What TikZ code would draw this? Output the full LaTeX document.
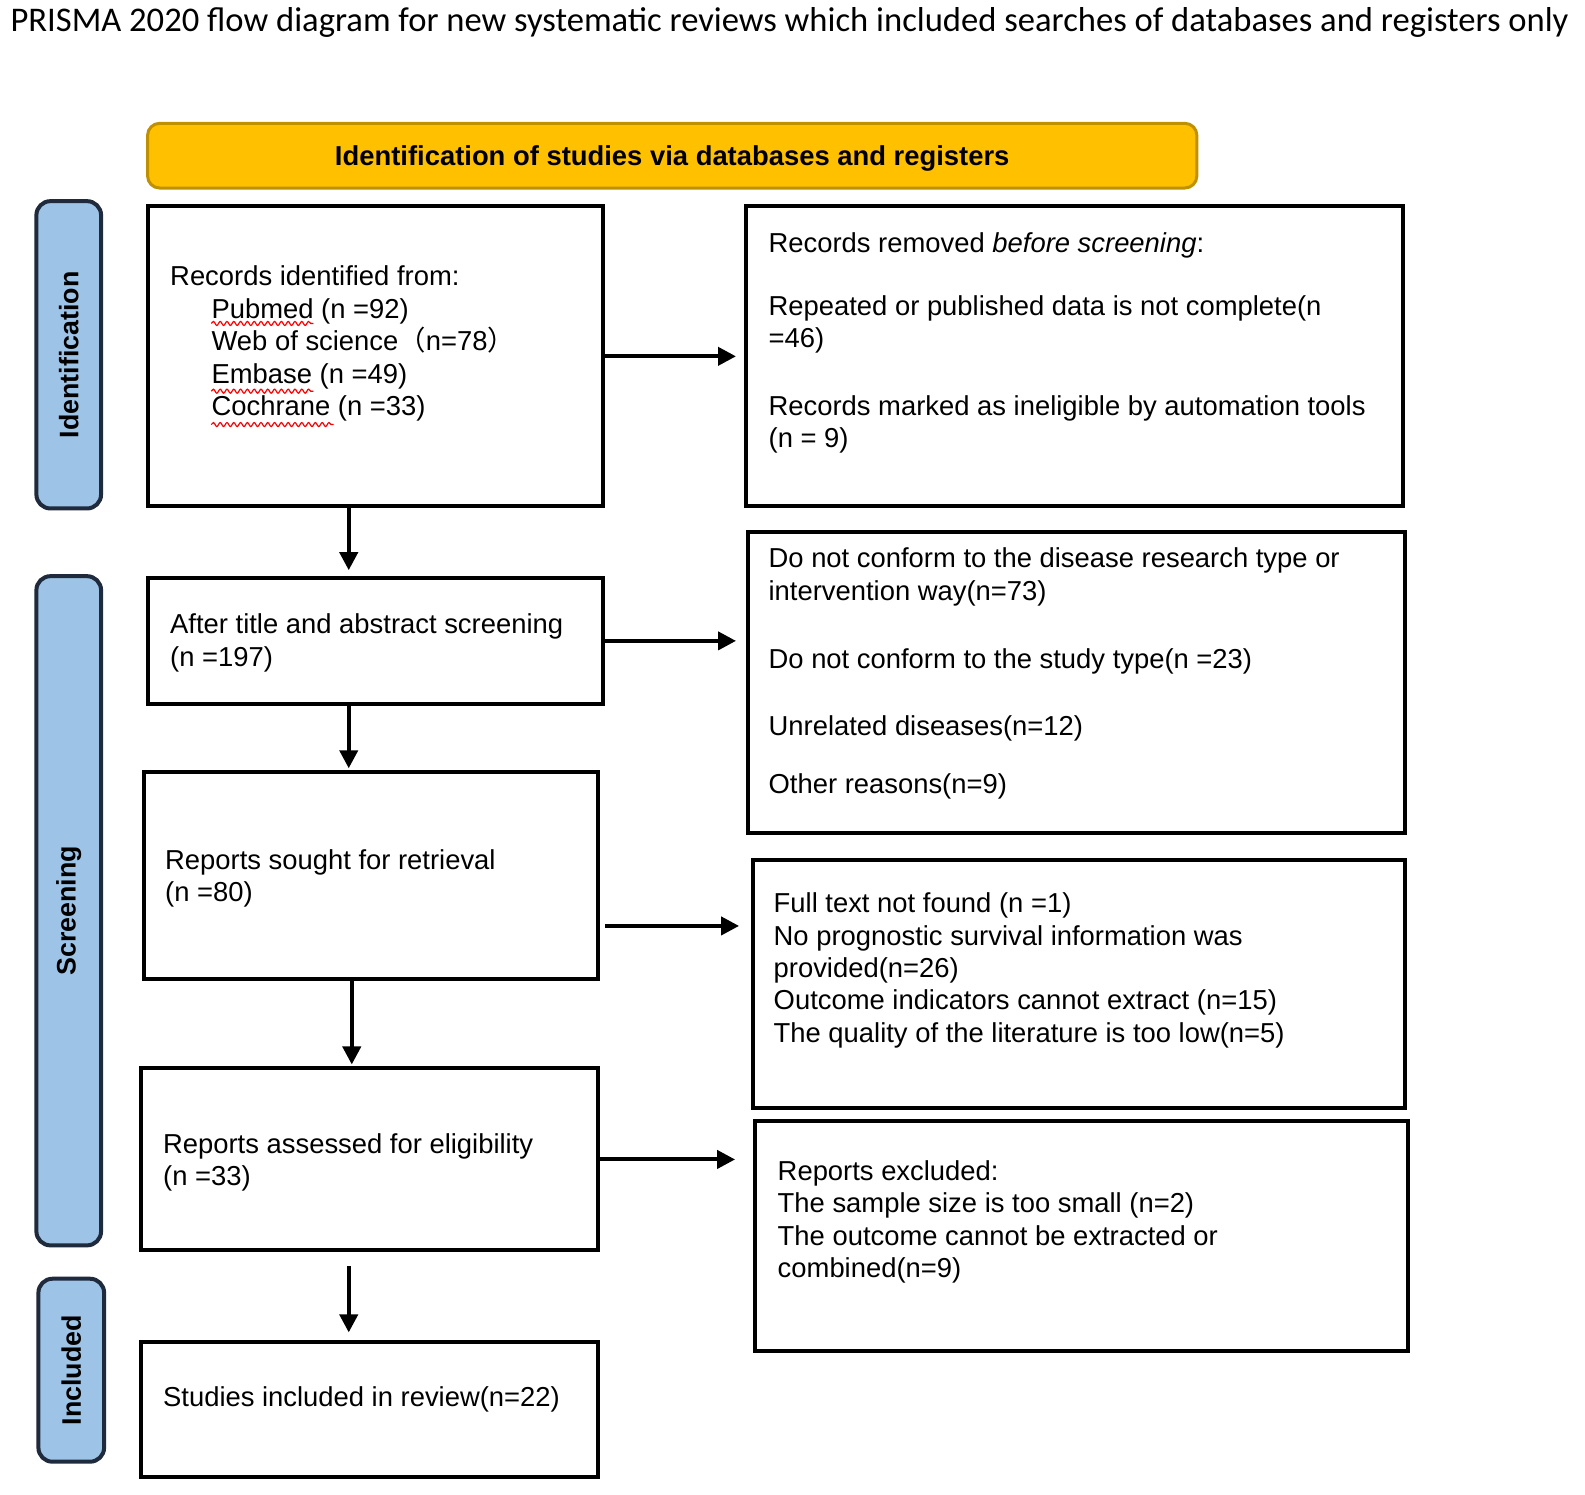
\documentclass[tikz,border=0pt]{standalone}
\usepackage{fontspec}
\setmainfont{Liberation Sans}
\newfontfamily\titlefont{Carlito}
\newfontfamily\cjkfont{Noto Sans CJK SC}
\usetikzlibrary{arrows.meta,calc,fit,decorations.pathmorphing}
\definecolor{labfill}{HTML}{9DC3E6}
\definecolor{labborder}{HTML}{1F2A3C}
\definecolor{gold}{HTML}{FFC000}
\definecolor{goldborder}{HTML}{BF9000}
\begin{document}
\begin{tikzpicture}[x=0.5055pt,y=-0.5055pt,
 box/.style={draw=black,line width=2pt,inner sep=0pt},
 lab/.style={draw=labborder,fill=labfill,line width=2pt,rounded corners=7pt,inner sep=0pt},
 labtext/.style={rotate=90,font=\bfseries\fontsize{13.4}{16}\selectfont},
 txt/.style={anchor=base west,align=left,inner sep=0pt,font=\fontsize{13.7}{16.2}\selectfont},
 arr/.style={line width=2pt,-{Triangle[length=9pt,width=9pt]}},
 squig/.style={draw=red,line width=0.6pt,decorate,decoration={snake,amplitude=1pt,segment length=3.4pt}}]
\useasboundingbox (0,0) rectangle (1568,1478);

% title
\node (title) at (781,22) {\titlefont\fontsize{17.3}{20}\selectfont PRISMA 2020 flow diagram for new systematic reviews which included searches of databases and registers only};

% banner
\node[fit={(146,122)(1184,186)},draw=goldborder,fill=gold,line width=1.5pt,rounded corners=6pt,inner sep=0pt] (banner) {};
\node[font=\bfseries\fontsize{13.7}{16}\selectfont] (bannertext) at ($(banner.center)+(0,3)$) {Identification of studies via databases and registers};

% side labels
\node[lab,fit={(36,199)(100,503)}] (labid) {};
\node[labtext] (labidt) at (labid.center) {Identification};
\node[lab,fit={(36,570)(100,1232)}] (labsc) {};
\node[labtext] (labsct) at (labsc.center) {Screening};
\node[lab,fit={(38,1265)(103,1446)}] (labin) {};
\node[labtext] (labint) at (labin.center) {Included};

% left boxes
\node[box,fit={(146,204)(597,501)}] (b1) {};
\node[box,fit={(146,572)(597,696)}] (b2) {};
\node[box,fit={(142,764)(592,968)}] (b3) {};
\node[box,fit={(139,1057)(592,1237)}] (b4) {};
\node[box,fit={(139,1328)(592,1461)}] (b5) {};

% right boxes
\node[box,fit={(738,204)(1388,501)}] (r1) {};
\node[box,fit={(740,526)(1390,824)}] (r2) {};
\node[box,fit={(745,851)(1390,1096)}] (r3) {};
\node[box,fit={(747,1109)(1393,1336)}] (r4) {};

% texts (anchor = baseline of the last line)
\node[txt] (t1) at (168,411) {Records identified from:\\
\hspace*{20.7pt}Pubmed (n =92)\\
\hspace*{20.7pt}Web of science{\cjkfont （}n=78{\cjkfont ）}\\
\hspace*{20.7pt}Embase (n =49)\\
\hspace*{20.7pt}Cochrane (n =33)};
\node[txt] (tr1) at (760,443) {Records removed \textit{before screening}:\\[15.2pt]
Repeated or published data is not complete(n\\
=46)\\[17.7pt]
Records marked as ineligible by automation tools\\
(n = 9)};
\node[txt] (t2) at (168,659) {After title and abstract screening\\(n =197)};
\node[txt] (tr2) at (760,785) {Do not conform to the disease research type or\\
intervention way(n=73)\\[17.7pt]
Do not conform to the study type(n =23)\\[17.7pt]
Unrelated diseases(n=12)\\[12.6pt]
Other reasons(n=9)};
\node[txt] (t3) at (163,892) {Reports sought for retrieval\\(n =80)};
\node[txt] (tr3) at (765,1031) {Full text not found (n =1)\\
No prognostic survival information was\\
provided(n=26)\\
Outcome indicators cannot extract (n=15)\\
The quality of the literature is too low(n=5)};
\node[txt] (t4) at (161,1173) {Reports assessed for eligibility\\(n =33)};
\node[txt] (tr4) at (769,1264) {Reports excluded:\\
The sample size is too small (n=2)\\
The outcome cannot be extracted or\\
combined(n=9)};
\node[txt] (t5) at (161,1391) {Studies included in review(n=22)};

% spell-check squiggles
\draw[squig] (209,320) -- (310,320);
\draw[squig] (209,387) -- (310,387);
\draw[squig] (209,420) -- (330,420);

% horizontal arrows
\draw[arr,shorten >=4pt] (b1.east) -- (r1.west);
\draw[arr,shorten >=5pt] (b2.east) -- (b2.east -| r2.west);
\coordinate (a3) at ($(b3.east)+(5,50)$);
\draw[arr,shorten >=6pt] (a3) -- (a3 -| r3.west);
\draw[arr,shorten >=9pt] (b4.east) -- (b4.east -| r4.west);

% vertical arrows
\coordinate (v1) at ($(b1.south)+(-26.5,0)$);
\draw[arr,shorten >=3pt] (v1) -- (v1 |- b2.north);
\coordinate (v2) at ($(b2.south)+(-26.5,0)$);
\draw[arr,shorten >=1pt] (v2) -- (v2 |- b3.north);
\coordinate (v3) at ($(b3.south)+(-19,0)$);
\draw[arr,shorten >=1pt] (v3) -- (v3 |- b4.north);
\coordinate (v4) at ($(b4.south)+(-20.5,0)$);
\draw[arr,shorten <=7pt,shorten >=4pt] (v4) -- (v4 |- b5.north);
\end{tikzpicture}
\end{document}
